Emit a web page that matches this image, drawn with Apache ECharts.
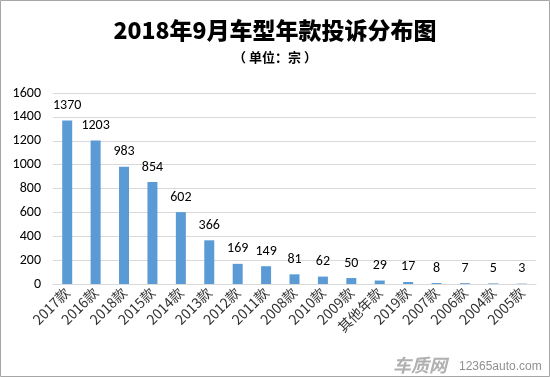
<!DOCTYPE html>
<html>
<head>
<meta charset="utf-8">
<script src="https://cdn.jsdelivr.net/npm/echarts@6/dist/echarts.min.js"></script>
<style>
  html,body{margin:0;padding:0;background:#fff;}
  #chart{width:550px;height:377px;}
</style>
</head>
<body>
<div id="chart"></div>
<script>
const categories = ['2017款','2016款','2018款','2015款','2014款','2013款','2012款','2011款','2008款','2010款','2009款','其他年款','2019款','2007款','2006款','2004款','2005款'];
const complaints = [1370,1203,983,854,602,366,169,149,81,62,50,29,17,8,7,5,3];
const yTicks = [0,200,400,600,800,1000,1200,1400,1600];

const font = '"Microsoft YaHei","Noto Sans CJK SC",sans-serif';
const numFont = 'Calibri,"Liberation Sans",sans-serif';
const myChart = echarts.init(document.getElementById('chart'));
const option = {
  animation: false,
  title: {
    text: '2018年9月车型年款投诉分布图',
    subtext: '（ 单位：宗 ）',
    left: 'center',
    top: 14,
    itemGap: 9,
    textStyle: {fontSize: 23, fontWeight: 900, color: '#000', fontFamily: font},
    subtextStyle: {fontSize: 13, fontWeight: 'bold', color: '#000', fontFamily: font}
  },
  grid: {left: 53, right: 14, top: 93, bottom: 93},
  xAxis: {
    type: 'category',
    data: categories,
    axisTick: {show: false},
    axisLine: {lineStyle: {color: '#d9d9d9'}},
    axisLabel: {rotate: 45, fontSize: 14, color: '#333', fontFamily: font, margin: 6, interval: 0}
  },
  yAxis: {
    type: 'value',
    min: 0,
    max: yTicks[yTicks.length - 1],
    interval: 200,
    axisLine: {show: false},
    axisTick: {show: false},
    splitLine: {lineStyle: {color: '#d9d9d9'}},
    axisLabel: {fontSize: 14, color: '#000', fontFamily: numFont, margin: 12, formatter: v => String(v)}
  },
  series: [{
    type: 'bar',
    data: complaints,
    barWidth: 10,
    itemStyle: {color: '#5b9bd5'},
    label: {show: true, position: 'top', distance: 8, fontSize: 14, color: '#000', fontFamily: numFont}
  }],
  graphic: [
    {type: 'rect', shape: {x: 0.5, y: 0.5, width: 549, height: 376}, style: {fill: 'none', stroke: '#a6a6a6', lineWidth: 1}},
    {type: 'text', left: 393, top: 356, style: {text: '车质网', font: 'bold italic 18px ' + font, fill: '#b0b0b0'}},
    {type: 'text', left: 459, top: 361, style: {text: '12365auto.com', font: '12px "Liberation Sans",sans-serif', fill: '#909090'}}
  ]
};
myChart.setOption(option);
</script>
</body>
</html>
